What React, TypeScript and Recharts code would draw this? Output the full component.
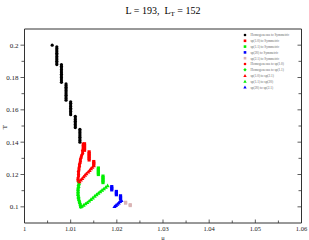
import { ScatterChart, Scatter, XAxis, YAxis } from "recharts";

const MU_TICKS = [1, 1.01, 1.02, 1.03, 1.04, 1.05, 1.06];
const MU_MINOR = [1.005, 1.015, 1.025, 1.035, 1.045, 1.055];
const T_TICKS = [0.1, 0.12, 0.14, 0.16, 0.18, 0.2];
const T_MINOR = [0.11, 0.13, 0.15, 0.17, 0.19];

// homogeneous -> symmetric (staircase)
const homToSym = [
  { mu: 1.006, T: 0.2 },
  { mu: 1.007, T: 0.199 }, { mu: 1.007, T: 0.198 }, { mu: 1.007, T: 0.197 }, { mu: 1.007, T: 0.196 },
  { mu: 1.007, T: 0.195 }, { mu: 1.007, T: 0.194 }, { mu: 1.007, T: 0.193 }, { mu: 1.007, T: 0.192 },
  { mu: 1.007, T: 0.191 }, { mu: 1.007, T: 0.19 }, { mu: 1.007, T: 0.189 }, { mu: 1.007, T: 0.188 },
  { mu: 1.008, T: 0.188 }, { mu: 1.008, T: 0.187 }, { mu: 1.008, T: 0.186 }, { mu: 1.008, T: 0.185 },
  { mu: 1.008, T: 0.184 }, { mu: 1.008, T: 0.183 }, { mu: 1.008, T: 0.182 }, { mu: 1.008, T: 0.181 },
  { mu: 1.008, T: 0.18 }, { mu: 1.008, T: 0.179 }, { mu: 1.008, T: 0.178 }, { mu: 1.008, T: 0.177 },
  { mu: 1.009, T: 0.176 }, { mu: 1.009, T: 0.175 }, { mu: 1.009, T: 0.174 }, { mu: 1.009, T: 0.173 },
  { mu: 1.009, T: 0.172 }, { mu: 1.009, T: 0.171 }, { mu: 1.009, T: 0.17 }, { mu: 1.009, T: 0.169 },
  { mu: 1.009, T: 0.168 }, { mu: 1.009, T: 0.167 }, { mu: 1.009, T: 0.166 },
  { mu: 1.01, T: 0.165 }, { mu: 1.01, T: 0.164 }, { mu: 1.01, T: 0.163 }, { mu: 1.01, T: 0.162 },
  { mu: 1.01, T: 0.161 }, { mu: 1.01, T: 0.16 }, { mu: 1.01, T: 0.159 }, { mu: 1.01, T: 0.158 },
  { mu: 1.01, T: 0.157 },
  { mu: 1.011, T: 0.156 }, { mu: 1.011, T: 0.155 }, { mu: 1.011, T: 0.154 }, { mu: 1.011, T: 0.153 },
  { mu: 1.011, T: 0.152 }, { mu: 1.011, T: 0.151 }, { mu: 1.011, T: 0.15 }, { mu: 1.011, T: 0.149 },
  { mu: 1.012, T: 0.148 }, { mu: 1.012, T: 0.147 }, { mu: 1.012, T: 0.146 }, { mu: 1.012, T: 0.145 },
  { mu: 1.012, T: 0.144 }, { mu: 1.012, T: 0.143 }, { mu: 1.012, T: 0.142 }, { mu: 1.012, T: 0.141 },
  { mu: 1.012, T: 0.14 },
];

const sp10ToSym = [
  { mu: 1.013, T: 0.139 }, { mu: 1.013, T: 0.138 }, { mu: 1.013, T: 0.137 }, { mu: 1.013, T: 0.136 },
  { mu: 1.013, T: 0.135 },
  { mu: 1.014, T: 0.134 }, { mu: 1.014, T: 0.133 }, { mu: 1.014, T: 0.132 }, { mu: 1.014, T: 0.131 },
  { mu: 1.014, T: 0.13 }, { mu: 1.014, T: 0.129 },
  { mu: 1.015, T: 0.128 }, { mu: 1.015, T: 0.127 }, { mu: 1.015, T: 0.126 },
];

const sp11ToSym = [
  { mu: 1.016, T: 0.124 }, { mu: 1.016, T: 0.123 }, { mu: 1.016, T: 0.122 }, { mu: 1.016, T: 0.121 },
  { mu: 1.016, T: 0.12 },
  { mu: 1.017, T: 0.119 }, { mu: 1.017, T: 0.118 }, { mu: 1.017, T: 0.117 }, { mu: 1.017, T: 0.116 },
  { mu: 1.017, T: 0.115 },
];

const sp20ToSym = [
  { mu: 1.0189, T: 0.1125 }, { mu: 1.0189, T: 0.1115 }, { mu: 1.0189, T: 0.1105 },
  { mu: 1.0199, T: 0.1095 }, { mu: 1.0199, T: 0.1085 }, { mu: 1.0199, T: 0.1075 },
  { mu: 1.0208, T: 0.1068 }, { mu: 1.0208, T: 0.1058 }, { mu: 1.0208, T: 0.1049 },
];

const sp21ToSym = [
  { mu: 1.0219, T: 0.1028 }, { mu: 1.0219, T: 0.1023 },
  { mu: 1.0229, T: 0.1013 }, { mu: 1.0229, T: 0.1008 },
];

const homToSp10 = [
  { mu: 1.0127, T: 0.139 }, { mu: 1.0127, T: 0.138 }, { mu: 1.0127, T: 0.137 }, { mu: 1.0127, T: 0.136 },
  { mu: 1.0126, T: 0.135 }, { mu: 1.0126, T: 0.134 }, { mu: 1.0126, T: 0.133 }, { mu: 1.0124, T: 0.132 },
  { mu: 1.0123, T: 0.131 }, { mu: 1.0122, T: 0.13 }, { mu: 1.0121, T: 0.129 }, { mu: 1.0121, T: 0.128 },
  { mu: 1.012, T: 0.127 }, { mu: 1.0119, T: 0.126 }, { mu: 1.0119, T: 0.125 }, { mu: 1.0118, T: 0.124 },
  { mu: 1.0118, T: 0.123 }, { mu: 1.0117, T: 0.122 }, { mu: 1.0117, T: 0.121 }, { mu: 1.0117, T: 0.12 },
  { mu: 1.0117, T: 0.119 }, { mu: 1.0116, T: 0.118 }, { mu: 1.0116, T: 0.117 }, { mu: 1.0116, T: 0.116 },
];

const homToSp11 = [
  { mu: 1.0118, T: 0.115 }, { mu: 1.0118, T: 0.114 }, { mu: 1.0117, T: 0.113 }, { mu: 1.0117, T: 0.112 },
  { mu: 1.0116, T: 0.111 }, { mu: 1.0116, T: 0.11 }, { mu: 1.0116, T: 0.109 }, { mu: 1.0116, T: 0.108 },
  { mu: 1.0116, T: 0.107 }, { mu: 1.0117, T: 0.106 }, { mu: 1.0117, T: 0.105 }, { mu: 1.0118, T: 0.104 },
  { mu: 1.0119, T: 0.103 }, { mu: 1.012, T: 0.102 }, { mu: 1.0121, T: 0.101 }, { mu: 1.0122, T: 0.1 },
];

const sp10ToSp21 = [
  { mu: 1.015, T: 0.1255 }, { mu: 1.0147, T: 0.1245 }, { mu: 1.0144, T: 0.1236 }, { mu: 1.0141, T: 0.1226 },
  { mu: 1.0138, T: 0.1216 }, { mu: 1.0134, T: 0.1206 }, { mu: 1.0131, T: 0.1196 }, { mu: 1.0128, T: 0.1186 },
  { mu: 1.0125, T: 0.1176 }, { mu: 1.0122, T: 0.1166 }, { mu: 1.0119, T: 0.1156 },
];

const sp11ToSp20 = [
  { mu: 1.018, T: 0.1131 }, { mu: 1.0176, T: 0.1121 }, { mu: 1.0172, T: 0.1112 }, { mu: 1.0168, T: 0.1103 },
  { mu: 1.0164, T: 0.1094 }, { mu: 1.016, T: 0.1085 }, { mu: 1.0156, T: 0.1076 }, { mu: 1.0152, T: 0.1066 },
  { mu: 1.0148, T: 0.1056 }, { mu: 1.0144, T: 0.1046 }, { mu: 1.014, T: 0.1036 }, { mu: 1.0136, T: 0.1027 },
  { mu: 1.0132, T: 0.1019 }, { mu: 1.0128, T: 0.1011 }, { mu: 1.0124, T: 0.1005 }, { mu: 1.0122, T: 0.1001 },
];

const sp20ToSp21 = [
  { mu: 1.021, T: 0.104 }, { mu: 1.0207, T: 0.1033 }, { mu: 1.0204, T: 0.1025 }, { mu: 1.0201, T: 0.1017 },
  { mu: 1.0198, T: 0.1009 }, { mu: 1.0195, T: 0.1002 },
];

const C = { black: "#000000", red: "#ff0000", green: "#00ee00", blue: "#0000ff", pink: "#dab4b4" };
const AXIS = "#333";
const FONT = "'Liberation Serif', 'DejaVu Serif', serif";

type Kind = "circle" | "square" | "diamond" | "triangle";

function Marker({ cx, cy, kind, color, s = 1.6 }: { cx: number; cy: number; kind: Kind; color: string; s?: number }) {
  if (kind === "circle") return <circle cx={cx} cy={cy} r={s} fill={color} />;
  if (kind === "square") return <rect x={cx - s} y={cy - s} width={s * 2} height={s * 2} fill={color} />;
  if (kind === "diamond")
    return <polygon points={`${cx},${cy - s * 1.3} ${cx + s * 1.3},${cy} ${cx},${cy + s * 1.3} ${cx - s * 1.3},${cy}`} fill={color} />;
  return <polygon points={`${cx},${cy - s * 1.3} ${cx + s * 1.3},${cy + s} ${cx - s * 1.3},${cy + s}`} fill={color} />;
}

const SERIES: { name: string; data: { mu: number; T: number }[]; kind: Kind; color: string }[] = [
  { name: "Homogeneous to Symmetric", data: homToSym, kind: "circle", color: C.black },
  { name: "sp(1.0) to Symmetric", data: sp10ToSym, kind: "square", color: C.red },
  { name: "sp(1.1) to Symmetric", data: sp11ToSym, kind: "square", color: C.green },
  { name: "sp(20) to Symmetric", data: sp20ToSym, kind: "square", color: C.blue },
  { name: "sp(2.1) to Symmetric", data: sp21ToSym, kind: "square", color: C.pink },
  { name: "Homogeneous to sp(1.0)", data: homToSp10, kind: "circle", color: C.red },
  { name: "Homogeneous to sp(1.1)", data: homToSp11, kind: "diamond", color: C.green },
  { name: "sp(1.0) to sp(2.1)", data: sp10ToSp21, kind: "triangle", color: C.red },
  { name: "sp(1.1) to sp(20)", data: sp11ToSp20, kind: "triangle", color: C.green },
  { name: "sp(20) to sp(2.1)", data: sp20ToSp21, kind: "triangle", color: C.blue },
];

function BottomTick({ x, y, payload }: any) {
  const major = MU_TICKS.includes(payload.value);
  return (
    <g>
      <line x1={x} x2={x} y1={y} y2={y - (major ? 3.5 : 2.5)} stroke={AXIS} strokeWidth={0.8} />
      {major && (
        <text x={x} y={y + 7.5} textAnchor="middle" fontSize={6.5} fontFamily={FONT} fill="#222">
          {String(payload.value)}
        </text>
      )}
    </g>
  );
}

function TopTick({ x, y, payload }: any) {
  const major = MU_TICKS.includes(payload.value);
  return <line x1={x} x2={x} y1={y} y2={y + (major ? 3.5 : 2.5)} stroke={AXIS} strokeWidth={0.8} />;
}

function LeftTick({ x, y, payload }: any) {
  const major = T_TICKS.includes(payload.value);
  return (
    <g>
      <line x1={x} x2={x - (major ? 4 : 3)} y1={y} y2={y} stroke={AXIS} strokeWidth={0.8} />
      {major && (
        <text x={x - 6} y={y + 2.4} textAnchor="end" fontSize={7} fontFamily={FONT} fill="#222">
          {String(payload.value)}
        </text>
      )}
    </g>
  );
}

function RightTick({ x, y, payload }: any) {
  const major = T_TICKS.includes(payload.value);
  return <line x1={x} x2={x - (major ? 4 : 3)} y1={y} y2={y} stroke={AXIS} strokeWidth={0.8} />;
}

export default function App() {
  return (
    <div style={{ position: "absolute", left: 0, top: 0, width: 309, height: 240, background: "#fff" }}>
      <ScatterChart width={309} height={240} margin={{ top: 0, right: 0, bottom: 0, left: 0 }}>
        <XAxis
          dataKey="mu"
          type="number"
          domain={[1, 1.06]}
          ticks={[...MU_TICKS, ...MU_MINOR]}
          interval={0}
          height={17}
          tickSize={0}
          tickMargin={0}
          tickLine={false}
          tick={<BottomTick />}
          axisLine={{ stroke: AXIS, strokeWidth: 1 }}
          allowDataOverflow
        />
        <XAxis
          xAxisId="top"
          orientation="top"
          type="number"
          domain={[1, 1.06]}
          ticks={[...MU_TICKS, ...MU_MINOR]}
          interval={0}
          height={29}
          tickSize={0}
          tickMargin={0}
          tickLine={false}
          tick={<TopTick />}
          axisLine={{ stroke: AXIS, strokeWidth: 1 }}
          allowDataOverflow
        />
        <YAxis
          dataKey="T"
          type="number"
          domain={[0.09, 0.21]}
          ticks={[...T_TICKS, ...T_MINOR]}
          interval={0}
          width={24.5}
          tickSize={0}
          tickMargin={0}
          tickLine={false}
          tick={<LeftTick />}
          axisLine={{ stroke: AXIS, strokeWidth: 1 }}
          allowDataOverflow
        />
        <YAxis
          yAxisId="right"
          orientation="right"
          type="number"
          domain={[0.09, 0.21]}
          ticks={[...T_TICKS, ...T_MINOR]}
          interval={0}
          width={7.5}
          tickSize={0}
          tickMargin={0}
          tickLine={false}
          tick={<RightTick />}
          axisLine={{ stroke: AXIS, strokeWidth: 1 }}
          allowDataOverflow
        />
        {SERIES.map((s) => (
          <Scatter
            key={s.name}
            name={s.name}
            data={s.data}
            isAnimationActive={false}
            shape={(p: any) => <Marker cx={p.cx} cy={p.cy} kind={s.kind} color={s.color} />}
          />
        ))}
      </ScatterChart>
      <svg width={309} height={240} style={{ position: "absolute", left: 0, top: 0, pointerEvents: "none" }}>
        <text x={163} y={14} textAnchor="middle" fontSize={10} fontFamily={FONT} fill="#000">
          {"L = 193,\u00a0\u00a0L"}
          <tspan fontSize={7} dy={2}>T</tspan>
          <tspan dy={-2}>{"\u00a0= 152"}</tspan>
        </text>
        <text x={163} y={239.5} textAnchor="middle" fontSize={6.5} fontFamily={FONT} fill="#222">μ</text>
        <text x={7} y={127} textAnchor="middle" fontSize={7} fontFamily={FONT} fill="#222" transform="rotate(-90 7 127)">T</text>
        {SERIES.map((s, i) => (
          <g key={s.name}>
            <Marker cx={245} cy={35 + i * 5.8} kind={s.kind} color={s.color} s={1.3} />
            <text x={250.5} y={36.3 + i * 5.8} fontSize={3.4} fontFamily={FONT} fill="#666">
              {s.name}
            </text>
          </g>
        ))}
      </svg>
    </div>
  );
}
